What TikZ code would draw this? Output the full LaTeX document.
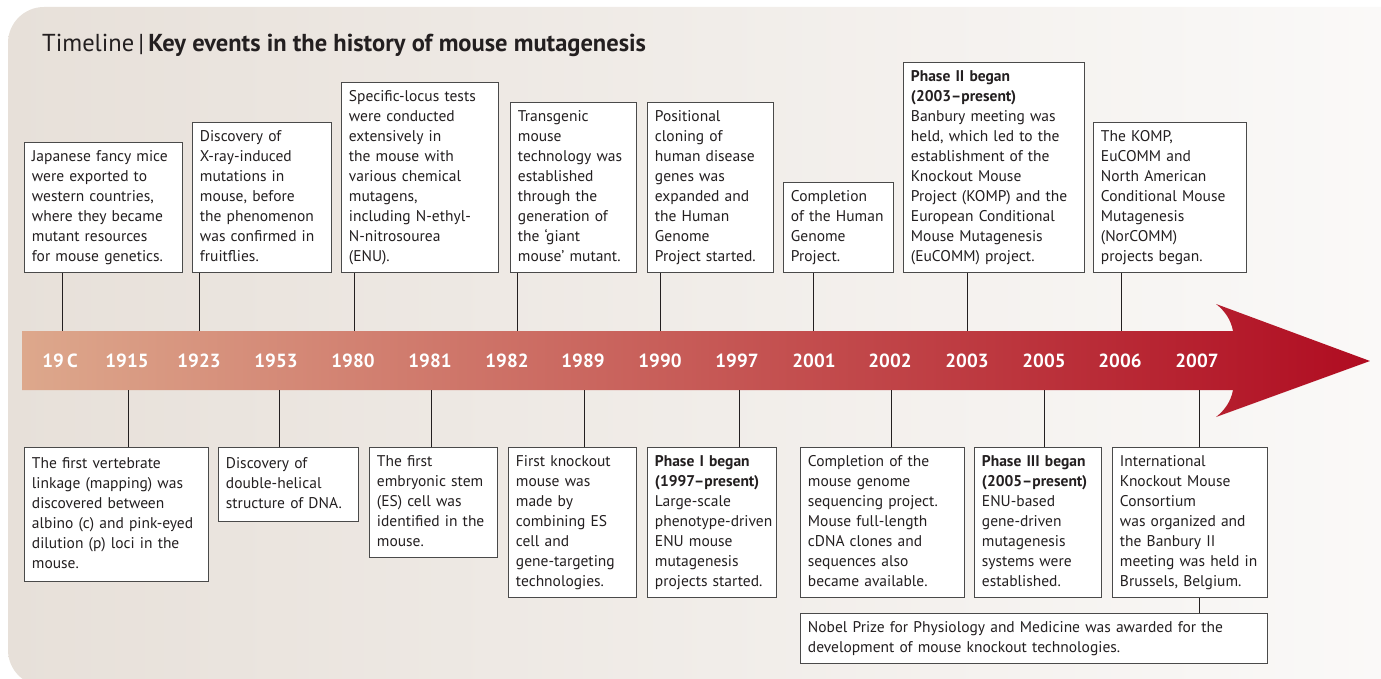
\documentclass[tikz,border=0pt]{standalone}
\usepackage{fontspec}
\setmainfont{PT Sans}

\definecolor{panelL}{HTML}{E7E0D9}
\definecolor{panelR}{HTML}{FBFAF9}
\definecolor{bandL}{HTML}{DDA88C}
\definecolor{bandM}{HTML}{C76A4C}
\definecolor{bandR}{HTML}{B00C21}
\definecolor{boxline}{HTML}{4A4A4A}
\definecolor{inkcol}{HTML}{231F20}

\tikzset{
	event/.style={draw=boxline, fill=white, line width=0.9pt, text=inkcol,
		font=\fontsize{15.5}{20}\selectfont, align=left, inner xsep=7.5pt, inner ysep=5pt,
		execute at begin node={\hyphenpenalty=10000\exhyphenpenalty=10000\hbadness=10000\rule{0pt}{14pt}},
		execute at end node={\rule[-6pt]{0pt}{6pt}}},
	year/.style={text=white, font=\fontsize{19}{19}\selectfont\bfseries, inner sep=0pt},
	stem/.style={draw=inkcol, line width=0.8pt}
}

\begin{document}
\begin{tikzpicture}[x=1pt, y=-1pt]
	\useasboundingbox (0,0) rectangle (1381,679);

	% background panel and the arrow
	\shade[left color=panelL, right color=panelR, rounded corners=36pt] (8,7) rectangle (1430,686);
	\shade[left color=bandL, middle color=bandM, right color=bandR]
		(22,331) -- (1233,331) .. controls (1231,320) and (1225,311) .. (1216,304)
		-- (1370,361) -- (1216,417) .. controls (1225,410) and (1231,401) .. (1233,390)
		-- (22,390) -- cycle;

	\node[anchor=base west, text=inkcol, font=\fontsize{24.5}{24.5}\selectfont, inner sep=0pt] (title) at (42,52)
		{Timeline\,|\,\textbf{Key events in the history of mouse mutagenesis}};

	% years
	\begin{scope}[every node/.style={year}]
	\node (y19c) at (60,361)   {19\,C};
	\node (y1915) at (127,361) {1915};
	\node (y1923) at (199,361) {1923};
	\node (y1953) at (276,361) {1953};
	\node (y1980) at (353,361) {1980};
	\node (y1981) at (430,361) {1981};
	\node (y1982) at (507,361) {1982};
	\node (y1989) at (583,361) {1989};
	\node (y1990) at (660,361) {1990};
	\node (y1997) at (737,361) {1997};
	\node (y2001) at (814,361) {2001};
	\node (y2002) at (890,361) {2002};
	\node (y2003) at (967,361) {2003};
	\node (y2005) at (1044,361) {2005};
	\node (y2006) at (1120,361) {2006};
	\node (y2007) at (1197,361) {2007};
	\end{scope}

	% events above the arrow
	\begin{scope}[every node/.style={event, anchor=south west}]
	\node[text width=143pt] (e19c) at (24,273)
		{Japanese fancy mice\\ were exported to\\ western countries,\\ where they became\\ mutant resources\\ for mouse genetics.};
	\node[text width=124pt] (e1923) at (192,273)
		{Discovery of\\ X-ray-induced\\ mutations in\\ mouse, before\\ the phenomenon\\ was confirmed in\\ fruitflies.};
	\node[text width=142pt] (e1980) at (341,273)
		{Specific-locus tests\\ were conducted\\ extensively in\\ the mouse with\\ various chemical\\ mutagens,\\ including N-ethyl-\\ N-nitrosourea\\ (ENU).};
	\node[text width=111pt] (e1982) at (510,273)
		{Transgenic\\ mouse\\ technology was\\ established\\ through the\\ generation of\\ the `giant\\ mouse' mutant.};
	\node[text width=111pt] (e1990) at (647,273)
		{Positional\\ cloning of\\ human disease\\ genes was\\ expanded and\\ the Human\\ Genome\\ Project started.};
	\node[text width=95pt] (e2001) at (783,273)
		{Completion\\ of the Human\\ Genome\\ Project.};
	\node[text width=166pt] (e2003) at (903,273)
		{\textbf{Phase II began}\\ \textbf{(2003--present)}\\ Banbury meeting was\\ held, which led to the\\ establishment of the\\ Knockout Mouse\\ Project (KOMP) and the\\ European Conditional\\ Mouse Mutagenesis\\ (EuCOMM) project.};
	\node[text width=138pt] (e2006) at (1093,273)
		{The KOMP,\\ EuCOMM and\\ North American\\ Conditional Mouse\\ Mutagenesis\\ (NorCOMM)\\ projects began.};
	\end{scope}

	% events below the arrow
	\begin{scope}[every node/.style={event, anchor=north west}]
	\node[text width=169pt, minimum height=134pt] (e1915) at (24,447)
		{The first vertebrate\\ linkage (mapping) was\\ discovered between\\ albino (c) and pink-eyed\\ dilution (p) loci in the\\ mouse.};
	\node[text width=125pt, minimum height=74pt] (e1953) at (218,447)
		{Discovery of\\ double-helical\\ structure of DNA.};
	\node[text width=113pt] (e1981) at (369,447)
		{The first\\ embryonic stem\\ (ES) cell was\\ identified in the\\ mouse.};
	\node[text width=113pt] (e1989) at (508,447)
		{First knockout\\ mouse was\\ made by\\ combining ES\\ cell and\\ gene-targeting\\ technologies.};
	\node[text width=114pt] (e1997) at (647,447)
		{\textbf{Phase I began}\\ \textbf{(1997--present)}\\ Large-scale\\ phenotype-driven\\ ENU mouse\\ mutagenesis\\ projects started.};
	\node[text width=149pt] (e2002) at (800,447)
		{Completion of the\\ mouse genome\\ sequencing project.\\ Mouse full-length\\ cDNA clones and\\ sequences also\\ became available.};
	\node[text width=112pt] (e2005) at (974,447)
		{\textbf{Phase III began}\\ \textbf{(2005--present)}\\ ENU-based\\ gene-driven\\ mutagenesis\\ systems were\\ established.};
	\node[text width=140pt] (e2007) at (1112,447)
		{International\\ Knockout Mouse\\ Consortium\\ was organized and\\ the Banbury II\\ meeting was held in\\ Brussels, Belgium.};
	\node[text width=452pt] (nobel) at (800,613)
		{Nobel Prize for Physiology and Medicine was awarded for the\\ development of mouse knockout technologies.};
	\end{scope}

	% where the stems meet the arrow
	\coordinate (t19c) at (62,331);
	\coordinate (t1923) at (199,331);
	\coordinate (t1980) at (354,331);
	\coordinate (t1982) at (517,331);
	\coordinate (t1990) at (660,331);
	\coordinate (t2001) at (813,331);
	\coordinate (t2003) at (967,331);
	\coordinate (t2006) at (1121,331);

	\coordinate (b1915) at (128,390);
	\coordinate (b1953) at (279,390);
	\coordinate (b1981) at (431,390);
	\coordinate (b1989) at (584,390);
	\coordinate (b1997) at (739,390);
	\coordinate (b2002) at (891,390);
	\coordinate (b2005) at (1044,390);
	\coordinate (b2007) at (1199,390);

	\path[stem] (e19c.south -| t19c) edge (t19c);
	\path[stem] (e1923.south -| t1923) edge (t1923);
	\path[stem] (e1980.south -| t1980) edge (t1980);
	\path[stem] (e1982.south -| t1982) edge (t1982);
	\path[stem] (e1990.south -| t1990) edge (t1990);
	\path[stem] (e2001.south -| t2001) edge (t2001);
	\path[stem] (e2003.south -| t2003) edge (t2003);
	\path[stem] (e2006.south -| t2006) edge (t2006);

	\path[stem] (b1915) edge (e1915.north -| b1915);
	\path[stem] (b1953) edge (e1953.north -| b1953);
	\path[stem] (b1981) edge (e1981.north -| b1981);
	\path[stem] (b1989) edge (e1989.north -| b1989);
	\path[stem] (b1997) edge (e1997.north -| b1997);
	\path[stem] (b2002) edge (e2002.north -| b2002);
	\path[stem] (b2005) edge (e2005.north -| b2005);
	\path[stem] (b2007) edge (e2007.north -| b2007);

	\path[stem] (e2007.south -| b2007) edge (nobel.north -| b2007);
\end{tikzpicture}
\end{document}
